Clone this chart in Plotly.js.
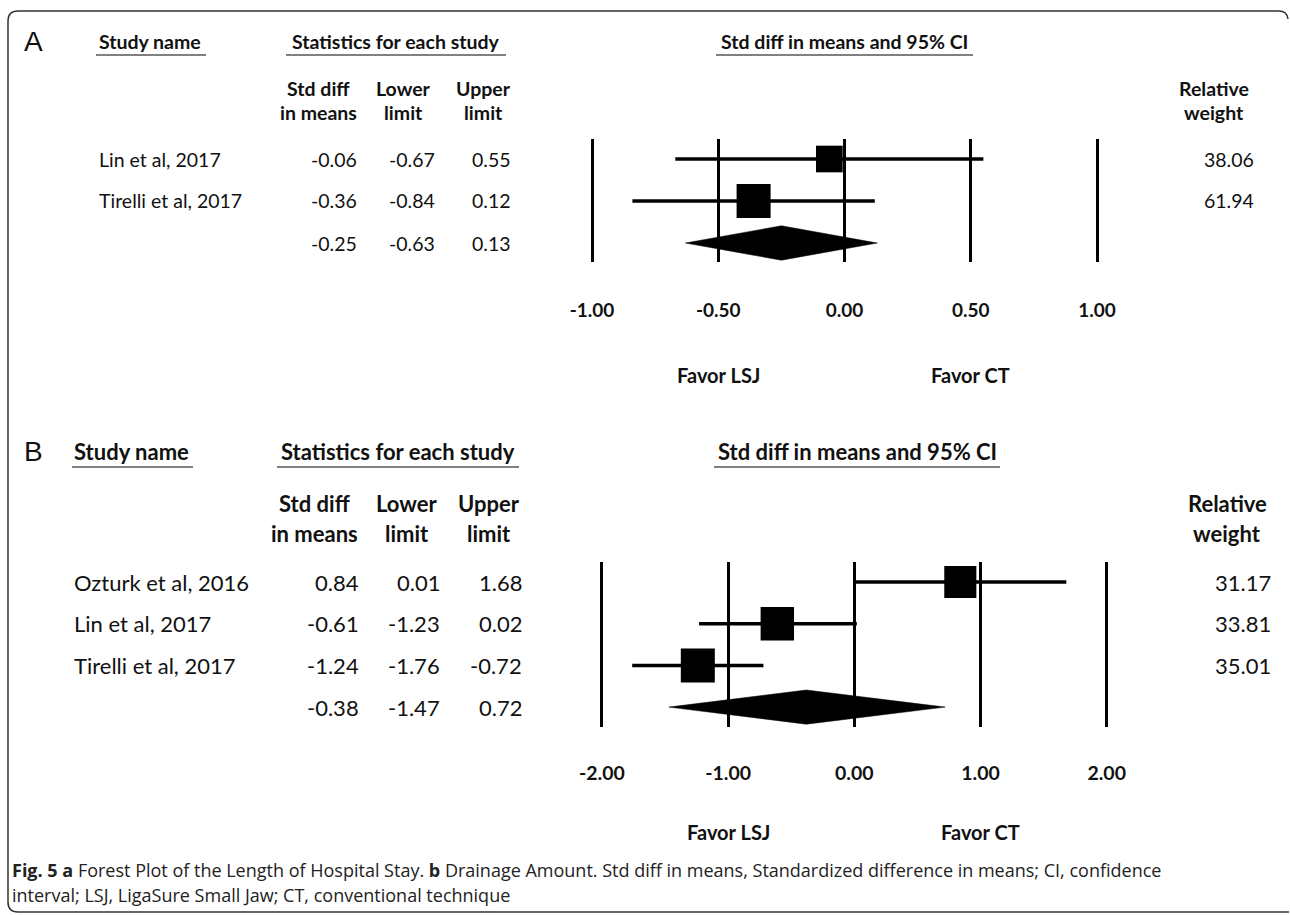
<!DOCTYPE html>
<html>
<head>
<meta charset="utf-8">
<script src="https://cdn.plot.ly/plotly-3.0.1.min.js"></script>
<style>
  html, body { margin: 0; padding: 0; background: #ffffff; }
  #chart { width: 1290px; height: 915px; }
</style>
</head>
<body>
<div id="chart"></div>
<script>
// ---- Panel A: length of hospital stay ----
const studiesA = ["Lin et al, 2017", "Tirelli et al, 2017", ""];
const estA = [-0.06, -0.36, -0.25];
const lowA = [-0.67, -0.84, -0.63];
const upA = [0.55, 0.12, 0.13];
const weightA = [38.06, 61.94];
const tickValsA = [-1, -0.5, 0, 0.5, 1];
const tickTextA = ["-1.00", "-0.50", "0.00", "0.50", "1.00"];

// ---- Panel B: drainage amount ----
const studiesB = ["Ozturk et al, 2016", "Lin et al, 2017", "Tirelli et al, 2017", ""];
const estB = [0.84, -0.61, -1.24, -0.38];
const lowB = [0.01, -1.23, -1.76, -1.47];
const upB = [1.68, 0.02, -0.72, 0.72];
const weightB = [31.17, 33.81, 35.01];
const tickValsB = [-2, -1, 0, 1, 2];
const tickTextB = ["-2.00", "-1.00", "0.00", "1.00", "2.00"];

const favorLabels = ["Favor LSJ", "Favor CT"];
const panelLetters = ["A", "B"];
const colHeaders = ["Study name", "Statistics for each study", "Std diff in means and 95% CI"];
const statHeaders = [["Std diff", "in means"], ["Lower", "limit"], ["Upper", "limit"]];
const weightHeader = ["Relative", "weight"];
const captionLines = [
  "<b>Fig. 5 a</b> Forest Plot of the Length of Hospital Stay. <b>b</b> Drainage Amount. Std diff in means, Standardized difference in means; CI, confidence",
  "interval; LSJ, LigaSure Small Jaw; CT, conventional technique"
];

// ---- page geometry (pixels) ----
const W = 1290, H = 915;
const px = x => x / W;
const py = y => 1 - y / H;

const TXT = "Lato, 'Open Sans', sans-serif";
const INK = "#111111";

const panels = [
  { studies: studiesA, est: estA, low: lowA, up: upA, w: weightA,
    tv: tickValsA, tt: tickTextA,
    zero: 844.5, unit: 252.5, plotL: 560, plotR: 1140,
    row0: 159, step: 42, top: 139, bottom: 262, ticklen: 31,
    letterX: 33, headY: 42, ulY: 55,
    nameX: 97, nameUL: [96, 206],
    statUL: [286, 506],
    ciUL: [716, 973],
    colC: [318, 403, 483], colR: [359, 437, 513],
    hdrY: [88, 113], relC: 1214, relR: 1256,
    favorY: 375, fs: 19.5, tickfs: 19 },
  { studies: studiesB, est: estB, low: lowB, up: upB, w: weightB,
    tv: tickValsB, tt: tickTextB,
    zero: 854.3, unit: 126.2, plotL: 560, plotR: 1150,
    row0: 582, step: 41.7, top: 562, bottom: 727, ticklen: 29,
    letterX: 33, headY: 452, ulY: 467,
    nameX: 72, nameUL: [72, 193],
    statUL: [277, 519],
    ciUL: [714, 1000],
    colC: [314, 407, 489], colR: [361, 442, 524],
    hdrY: [503, 533], relC: 1227, relR: 1273,
    favorY: 832, fs: 22, tickfs: 19.5 }
];

const traces = [];
const annotations = [];
const shapes = [];
const layout = {
  width: W, height: H,
  margin: { l: 0, r: 0, t: 0, b: 0 },
  paper_bgcolor: "#ffffff", plot_bgcolor: "#ffffff",
  showlegend: false,
  font: { family: TXT, color: INK }
};

function addText(x, y, text, size, anchor, bold, extra) {
  annotations.push(Object.assign({
    xref: "paper", yref: "paper", x: px(x), y: py(y),
    xanchor: anchor, yanchor: "middle", showarrow: false,
    text: bold ? "<b>" + text + "</b>" : text,
    font: { family: TXT, size: size, color: INK }
  }, extra || {}));
}

function hline(x0, x1, y, color, width) {
  shapes.push({ type: "line", xref: "paper", yref: "paper",
    x0: px(x0), x1: px(x1), y0: py(y), y1: py(y),
    line: { color: color, width: width } });
}

panels.forEach((p, k) => {
  const xa = k === 0 ? "x" : "x2";
  const ya = k === 0 ? "y" : "y2";
  const xname = k === 0 ? "xaxis" : "xaxis2";
  const yname = k === 0 ? "yaxis" : "yaxis2";

  // gridlines at the ticks are the vertical reference lines
  layout[xname] = {
    domain: [px(p.plotL), px(p.plotR)],
    range: [(p.plotL - p.zero) / p.unit, (p.plotR - p.zero) / p.unit],
    anchor: ya,
    tickvals: p.tv, ticktext: p.tt,
    showgrid: true, gridcolor: "#000000", gridwidth: 3,
    zeroline: false, showline: false,
    ticks: "outside", ticklen: p.ticklen, tickcolor: "rgba(0,0,0,0)",
    tickfont: { family: TXT, size: p.tickfs, color: INK, weight: "bold" },
    fixedrange: true
  };
  layout[yname] = {
    domain: [py(p.bottom), py(p.top)],
    range: [(p.bottom - p.row0) / p.step, (p.top - p.row0) / p.step],
    anchor: xa,
    showgrid: false, zeroline: false, showline: false,
    showticklabels: false, ticks: "",
    fixedrange: true
  };

  const n = p.est.length;
  const nStudies = p.w.length;
  const maxW = Math.max(...p.w);

  // confidence interval whiskers of each study
  const cx = [], cy = [];
  for (let i = 0; i < nStudies; i++) {
    cx.push(p.low[i], p.up[i], null);
    cy.push(i, i, null);
  }
  traces.push({ type: "scatter", mode: "lines", x: cx, y: cy,
    xaxis: xa, yaxis: ya, line: { color: "#000000", width: 3.5 },
    hoverinfo: "skip" });

  // point estimates, box area proportional to relative weight
  traces.push({ type: "scatter", mode: "markers",
    x: p.est.slice(0, nStudies), y: p.w.map((_, i) => i),
    xaxis: xa, yaxis: ya,
    marker: { symbol: "square", color: "#000000", opacity: 1,
      size: p.w.map(v => 34 * Math.sqrt(v / maxW)), line: { width: 0 } },
    hoverinfo: "skip" });

  // pooled estimate diamond
  const s = n - 1, h = 0.41;
  traces.push({ type: "scatter", mode: "lines", fill: "toself",
    x: [p.low[s], p.est[s], p.up[s], p.est[s], p.low[s]],
    y: [s, s - h, s, s + h, s],
    xaxis: xa, yaxis: ya, fillcolor: "#000000",
    line: { color: "#000000", width: 0.5 }, hoverinfo: "skip" });

  // panel letter and column headers
  addText(p.letterX, p.headY, panelLetters[k], 28, "center", false,
    { font: { family: "'Liberation Sans', Arial, sans-serif", size: 28, color: INK } });
  addText(p.nameX, p.headY, colHeaders[0], p.fs, "left", true);
  addText((p.statUL[0] + p.statUL[1]) / 2, p.headY, colHeaders[1], p.fs, "center", true);
  addText((p.ciUL[0] + p.ciUL[1]) / 2, p.headY, colHeaders[2], p.fs, "center", true);
  hline(p.nameUL[0], p.nameUL[1], p.ulY, "#808080", 2);
  hline(p.statUL[0], p.statUL[1], p.ulY, "#808080", 2);
  hline(p.ciUL[0], p.ciUL[1], p.ulY, "#808080", 2);

  statHeaders.forEach((hdr, j) => {
    addText(p.colC[j], p.hdrY[0], hdr[0], p.fs, "center", true);
    addText(p.colC[j], p.hdrY[1], hdr[1], p.fs, "center", true);
  });
  addText(p.relC, p.hdrY[0], weightHeader[0], p.fs, "center", true);
  addText(p.relC, p.hdrY[1], weightHeader[1], p.fs, "center", true);

  // study rows: name, statistics, relative weight
  for (let i = 0; i < n; i++) {
    const y = p.row0 + i * p.step;
    if (p.studies[i]) addText(p.nameX, y, p.studies[i], p.fs, "left", false);
    [p.est[i], p.low[i], p.up[i]].forEach((v, j) => {
      addText(p.colR[j], y, v.toFixed(2), p.fs, "right", false);
    });
    if (i < nStudies) addText(p.relR, y, p.w[i].toFixed(2), p.fs, "right", false);
  }

  // direction labels under the axis, centred on each half of the scale
  const half = Math.max(...p.tv) / 2;
  [-half, half].forEach((v, j) => {
    annotations.push({ xref: xa, yref: "paper", x: v, y: py(p.favorY),
      xanchor: "center", yanchor: "middle", showarrow: false,
      text: "<b>" + favorLabels[j] + "</b>",
      font: { family: TXT, size: 20, color: INK } });
  });
});

// caption
const CAP = "'Open Sans', 'Noto Sans', sans-serif";
captionLines.forEach((t, i) => {
  annotations.push({ xref: "paper", yref: "paper", x: px(10), y: py(870 + i * 25),
    xanchor: "left", yanchor: "middle", showarrow: false, text: t,
    font: { family: CAP, size: 18, color: "#222222" } });
});

// rounded figure frame
const fx0 = 8, fy0 = 11, fx1 = 1289, fy1 = 912, r = 10;
const P = (x, y) => px(x).toFixed(5) + "," + py(y).toFixed(5);
shapes.push({ type: "path", xref: "paper", yref: "paper",
  path: "M" + P(fx1, fy1) + " L" + P(fx0 + r, fy1) + " Q" + P(fx0, fy1) + " " + P(fx0, fy1 - r) +
        " L" + P(fx0, fy0 + r) + " Q" + P(fx0, fy0) + " " + P(fx0 + r, fy0) +
        " L" + P(fx1 - r, fy0) + " Q" + P(fx1 - 2, fy0) + " " + P(fx1 - 1, fy0 + 8),
  line: { color: "#333333", width: 1.5 } });

layout.annotations = annotations;
layout.shapes = shapes;

Plotly.newPlot("chart", traces, layout, { displayModeBar: false, staticPlot: true });
</script>
</body>
</html>
